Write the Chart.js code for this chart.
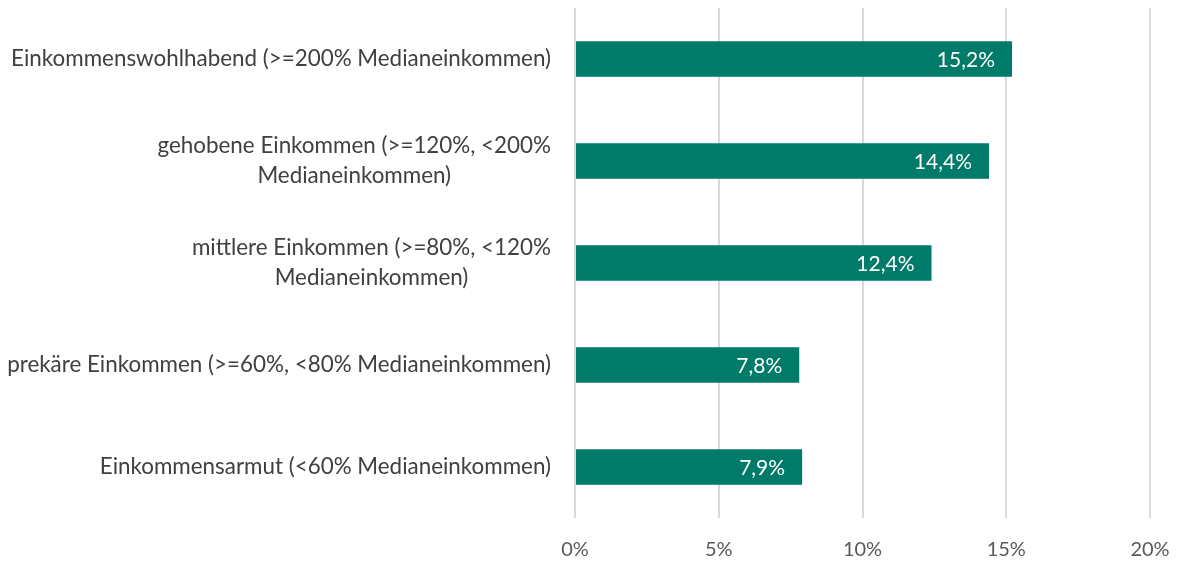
<!DOCTYPE html>
<html>
<head>
<meta charset="utf-8">
<script src="https://cdn.jsdelivr.net/npm/chart.js@4"></script>
<style>
	html, body { margin: 0; padding: 0; background: #fff; }
</style>
</head>
<body>
<canvas id="chart" width="1179" height="564"></canvas>
<script>
// categories, top to bottom
var categories = [
	["Einkommenswohlhabend (>=200% Medianeinkommen)"],
	["gehobene Einkommen (>=120%, <200%", "Medianeinkommen)"],
	["mittlere Einkommen (>=80%, <120%", "Medianeinkommen)"],
	["prekäre Einkommen (>=60%, <80% Medianeinkommen)"],
	["Einkommensarmut (<60% Medianeinkommen)"]
];
var shares = [15.2, 14.4, 12.4, 7.8, 7.9];
var valueLabels = ["15,2%", "14,4%", "12,4%", "7,8%", "7,9%"];
var xTicks = [0, 5, 10, 15, 20];

var fontFamily = "Lato, 'Open Sans', sans-serif";

// category labels: block right aligned, lines centered inside the block
var categoryLabels = {
	id: 'categoryLabels',
	afterDraw: function(chart) {
		var ctx = chart.ctx;
		var y = chart.scales.y;
		var right = chart.chartArea.left - 24;
		var lineH = 30;
		ctx.save();
		ctx.font = "22.4px " + fontFamily;
		ctx.fillStyle = "#404040";
		ctx.textAlign = "center";
		ctx.textBaseline = "middle";
		for (i = 0; i < categories.length; i++) {
			var lines = categories[i];
			var w = 0;
			for (j = 0; j < lines.length; j++) {
				w = Math.max(w, ctx.measureText(lines[j]).width);
			}
			var cy = y.getPixelForValue(i);
			var top = cy - (lines.length - 1) * lineH / 2;
			for (j = 0; j < lines.length; j++) {
				ctx.fillText(lines[j], right - w / 2, top + j * lineH);
			}
		}
		ctx.restore();
	}
};

// value labels inside the bar end
var valueLabelPlugin = {
	id: 'valueLabels',
	afterDatasetsDraw: function(chart) {
		var ctx = chart.ctx;
		var meta = chart.getDatasetMeta(0);
		ctx.save();
		ctx.font = "21px " + fontFamily;
		ctx.fillStyle = "#ffffff";
		ctx.textAlign = "right";
		ctx.textBaseline = "middle";
		meta.data.forEach(function(bar, i) {
			ctx.fillText(valueLabels[i], bar.x - 17, bar.y + 1);
		});
		ctx.restore();
	}
};

var chart = new Chart(document.getElementById('chart'), {
	type: 'bar',
	data: {
		labels: categories,
		datasets: [{
			data: shares,
			backgroundColor: "#007A69",
			barPercentage: 0.35,
			categoryPercentage: 1
		}]
	},
	options: {
		indexAxis: 'y',
		responsive: false,
		devicePixelRatio: 1,
		animation: false,
		layout: {
			padding: { left: 575, right: 29, top: 8, bottom: 2 }
		},
		plugins: {
			legend: { display: false },
			tooltip: { enabled: false }
		},
		scales: {
			y: {
				display: false
			},
			x: {
				min: 0,
				max: 20,
				afterBuildTicks: function(scale) {
					scale.ticks = xTicks.map(function(v) { return { value: v }; });
				},
				afterFit: function(scale) {
					scale.height = 44;
					scale.paddingRight = 0;
					scale.paddingLeft = 0;
				},
				grid: {
					color: "#d9d9d9",
					lineWidth: 2,
					drawTicks: false
				},
				border: { display: false },
				ticks: {
					padding: 20,
					color: "#595959",
					font: { family: fontFamily, size: 20 },
					callback: function(v) { return v + "%"; }
				}
			}
		}
	},
	plugins: [categoryLabels, valueLabelPlugin]
});
</script>
</body>
</html>
